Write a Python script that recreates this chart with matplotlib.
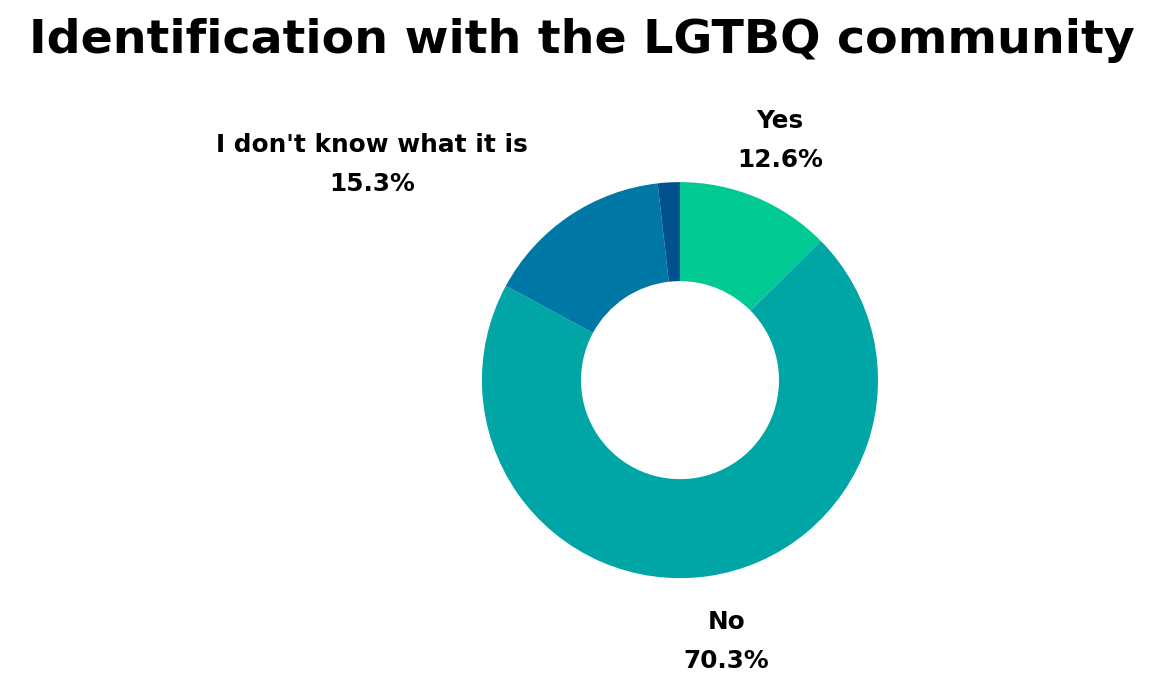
import matplotlib
matplotlib.use("Agg")
import matplotlib.pyplot as plt
import numpy as np

labels = ["Yes", "No", "I don't know what it is", ""]
shares = [12.6, 70.3, 15.3, 1.8]
colors = ["#00c994", "#00a5a5", "#0078a5", "#00528f"]

plt.rcParams['font.family'] = ['DejaVu Sans']

fig = plt.figure(figsize=(11.53, 6.77), dpi=100)
fig.text(0.505, 0.94, "Identification with the LGTBQ community", ha='center', va='center',
         fontsize=34.2, fontweight='bold', color='black')

ax = fig.add_axes([0.418, 0.146, 0.3435, 0.585])
wedges, _ = ax.pie(shares, colors=colors, startangle=90, counterclock=False,
                   radius=1.0, wedgeprops=dict(width=0.5, linewidth=0))
ax.set_xlim(-1, 1)
ax.set_ylim(-1, 1)
ax.set_aspect('equal')
ax.axis('off')

# label offsets (distance from center, in radii) for each wedge
label_dist = [1.31, 1.34, 1.9]
label_ang_shift = [0, 2, 21]
for w, lab, val, d, sh in zip(wedges, labels, shares, label_dist, label_ang_shift):
    ang = np.deg2rad((w.theta1 + w.theta2) / 2 + sh)
    x = d * np.cos(ang)
    y = d * np.sin(ang)
    ax.text(x, y, f"{lab}\n{val}%", ha='center', va='center', fontsize=17.8,
            fontweight='bold', linespacing=1.8, clip_on=False)

fig.savefig("out.png", dpi=100, facecolor='white')
